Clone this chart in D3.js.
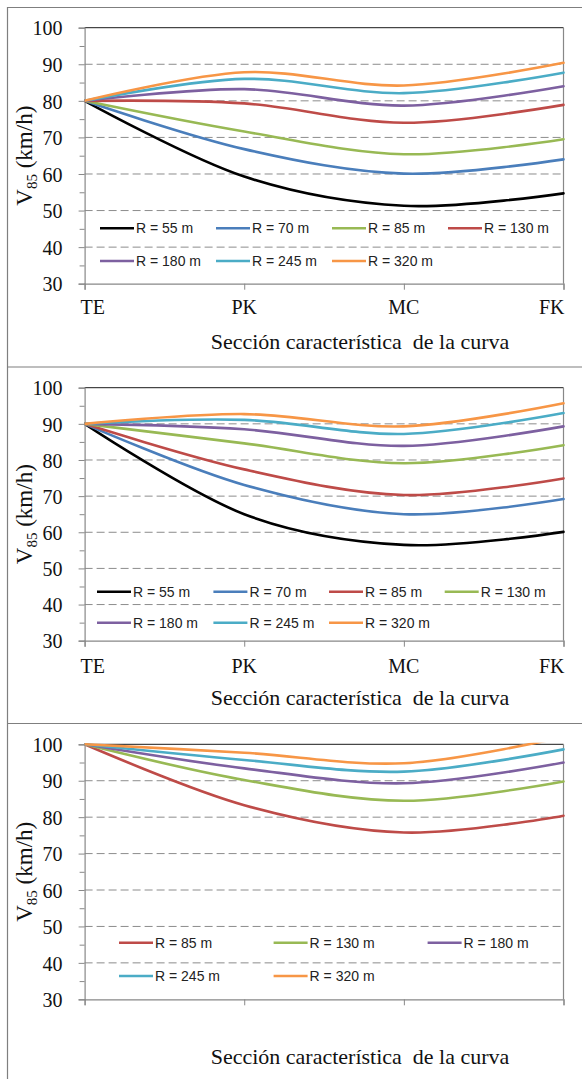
<!DOCTYPE html>
<html>
<head>
<meta charset="utf-8">
<script src="https://cdn.jsdelivr.net/npm/d3@7"></script>
<style>
  html, body { margin: 0; padding: 0; background: #fff; }
  svg { display: block; }
</style>
</head>
<body>
<svg id="chart" width="582" height="1079"></svg>
<script>
// ---------------- DATA ----------------
const categories = ["TE", "PK", "MC", "FK"];
const yTickValues = [30, 40, 50, 60, 70, 80, 90, 100];
const yMinorTicks = [35, 45, 55, 65, 75, 85, 95];
const gridValues = [40, 50, 60, 70, 80, 90];
const xTitle = "Sección característica  de la curva";

const p1Labels = ["R = 55 m", "R = 70 m", "R = 85 m", "R = 130 m", "R = 180 m", "R = 245 m", "R = 320 m"];
const p1Values = [
  [80, 59.3, 51.3, 54.7],
  [80, 66.8, 60.1, 64.0],
  [80, 71.6, 65.4, 69.5],
  [80, 79.3, 74.0, 78.9],
  [80, 83.2, 78.7, 84.0],
  [80, 86.0, 82.1, 87.7],
  [80, 87.8, 84.2, 90.4]
];

const p2Labels = ["R = 55 m", "R = 70 m", "R = 85 m", "R = 130 m", "R = 180 m", "R = 245 m", "R = 320 m"];
const p2Values = [
  [90, 65.0, 56.5, 60.1],
  [90, 73.1, 65.0, 69.2],
  [90, 77.4, 70.3, 74.9],
  [90, 84.6, 79.1, 84.1],
  [90, 88.5, 83.9, 89.3],
  [90, 91.1, 87.2, 93.0],
  [90, 92.7, 89.3, 95.7]
];

const p3Labels = ["R = 85 m", "R = 130 m", "R = 180 m", "R = 245 m", "R = 320 m"];
const p3Values = [
  [100, 83.3, 75.8, 80.4],
  [100, 90.2, 84.5, 89.8],
  [100, 93.4, 89.3, 95.0],
  [100, 95.7, 92.5, 98.6],
  [100, 97.7, 94.8, 102.0]
];

// ---------------- STYLE ----------------
const SERIF = "'Liberation Serif', 'Times New Roman', Tinos, 'DejaVu Serif', serif";
const SANS = "'Liberation Sans', Arial, sans-serif";
const C = {
  black: "#000000", blue: "#4A7EBB", green: "#98B954", red: "#BE4B48",
  purple: "#7D60A0", teal: "#4BACC6", orange: "#F79646"
};
const pal1 = [C.black, C.blue, C.green, C.red, C.purple, C.teal, C.orange];
const pal2 = [C.black, C.blue, C.red, C.green, C.purple, C.teal, C.orange];
const pal3 = [C.red, C.green, C.purple, C.teal, C.orange];

const plotLeft = 84.6, plotRight = 563.5;

const panels = [
  { top: 27.7, bottom: 283.7, values: p1Values, labels: p1Labels, colors: pal1,
    showCats: true, catY: 306.7, titleY: 341.7,
    legRows: [228.3, 261], legCols: [100, 216, 332, 448], perRow: 4 },
  { top: 387.7, bottom: 640.7, values: p2Values, labels: p2Labels, colors: pal2,
    showCats: true, catY: 666, titleY: 697.3,
    legRows: [591.7, 622.7], legCols: [97, 213.4, 329, 444.7], perRow: 4 },
  { top: 744.3, bottom: 999.3, values: p3Values, labels: p3Labels, colors: pal3,
    showCats: false, catY: 0, titleY: 1056.7,
    legRows: [942.7, 976], legCols: [119, 273.6, 427.6], perRow: 3 }
];

const svg = d3.select("#chart");

// outer frames
const frame = svg.append("g").attr("stroke", "#7f7f7f").attr("stroke-width", 1.2);
frame.append("line").attr("x1", 7.5).attr("x2", 7.5).attr("y1", 7).attr("y2", 1079);
[7.5, 367, 723.5].forEach(y => {
  frame.append("line").attr("x1", 7).attr("x2", 582).attr("y1", y).attr("y2", y);
});

const x = d3.scalePoint().domain(categories).range([plotLeft, plotRight]).padding(0);

panels.forEach((p, pi) => {
  const g = svg.append("g");
  const y = d3.scaleLinear().domain([30, 100]).range([p.bottom, p.top]);

  // clip
  const clipId = "clip" + pi;
  svg.append("clipPath").attr("id", clipId).append("rect")
    .attr("x", plotLeft).attr("y", p.top - 1.5)
    .attr("width", plotRight - plotLeft + 2).attr("height", p.bottom - p.top + 3);

  // gridlines
  g.append("g").selectAll("line").data(gridValues).join("line")
    .attr("x1", plotLeft).attr("x2", plotRight)
    .attr("y1", d => y(d)).attr("y2", d => y(d))
    .attr("stroke", "#8c8c8c").attr("stroke-width", 1)
    .attr("stroke-dasharray", "8,4");

  // plot area border top (dark) and right (gray)
  g.append("line").attr("x1", plotLeft).attr("x2", plotRight)
    .attr("y1", y(100)).attr("y2", y(100)).attr("stroke", "#1a1a1a").attr("stroke-width", 1);
  g.append("line").attr("x1", plotRight).attr("x2", plotRight)
    .attr("y1", y(100)).attr("y2", y(30)).attr("stroke", "#888").attr("stroke-width", 1.2);

  // y axis
  const yAxis = d3.axisLeft(y).tickValues(yTickValues).tickSize(6).tickPadding(16)
    .tickFormat(d3.format("d"));
  const ya = g.append("g").attr("transform", `translate(${plotLeft},0)`).call(yAxis)
    .attr("font-family", SERIF).attr("font-size", 20);
  ya.select(".domain").attr("stroke", "#888").attr("stroke-width", 1.2);
  ya.selectAll(".tick line").attr("stroke", "#888");
  ya.selectAll(".tick text").style("font-family", SERIF).style("font-size", "20px")
    .attr("fill", "#111").attr("dy", "0.36em");
  // minor ticks
  const yMinor = d3.axisLeft(y).tickValues(yMinorTicks).tickSize(5).tickFormat("");
  const ym = g.append("g").attr("transform", `translate(${plotLeft},0)`).call(yMinor);
  ym.select(".domain").remove();
  ym.selectAll(".tick line").attr("stroke", "#888");

  // x axis
  const xAxis = d3.axisBottom(x).tickSize(6).tickFormat("");
  const xa = g.append("g").attr("transform", `translate(0,${p.bottom})`).call(xAxis);
  xa.select(".domain").attr("stroke", "#888").attr("stroke-width", 1.2);
  xa.selectAll(".tick line").attr("stroke", "#888");

  if (p.showCats) {
    g.append("g").selectAll("text").data(categories).join("text")
      .style("font-family", SERIF).style("font-size", "20px").attr("fill", "#111")
      .attr("x", (d, i) => i === 0 ? x(d) - 4 : (i === categories.length - 1 ? x(d) + 1 : x(d)))
      .attr("y", p.catY).attr("dy", "0.35em")
      .attr("text-anchor", (d, i) => i === 0 ? "start" : (i === categories.length - 1 ? "end" : "middle"))
      .text(d => d);
  }

  // y title
  const cy = (p.top + p.bottom) / 2;
  const yt = g.append("text").style("font-family", SERIF).attr("fill", "#111")
    .attr("transform", `translate(32,${cy}) rotate(-90)`)
    .attr("text-anchor", "middle").style("font-size", "23px");
  yt.append("tspan").text("V");
  yt.append("tspan").style("font-size", "15px").attr("dy", 5).text("85");
  yt.append("tspan").attr("dy", -5).text(" (km/h)");

  // x title
  g.append("text").style("font-family", SERIF).attr("fill", "#111")
    .attr("x", 360).attr("y", p.titleY).attr("dy", "0.35em")
    .attr("text-anchor", "middle").style("font-size", "22px")
    .style("white-space", "pre")
    .text(xTitle);

  // lines
  const line = d3.line()
    .x((d, i) => x(categories[i]))
    .y(d => y(d))
    .curve(d3.curveCatmullRom.alpha(0));
  g.append("g").attr("clip-path", `url(#${clipId})`)
    .selectAll("path").data(p.values).join("path")
    .attr("d", d => line(d))
    .attr("fill", "none")
    .attr("stroke", (d, i) => p.colors[i])
    .attr("stroke-width", 2.6)
    .attr("stroke-linecap", "round");

  // legend
  const leg = g.append("g");
  p.labels.forEach((lab, i) => {
    const row = Math.floor(i / p.perRow), col = i % p.perRow;
    const lx = p.legCols[col], ly = p.legRows[row];
    leg.append("line").attr("x1", lx).attr("x2", lx + 34).attr("y1", ly).attr("y2", ly)
      .attr("stroke", p.colors[i]).attr("stroke-width", 2.6);
    leg.append("text").style("font-family", SANS).style("font-size", "14px").attr("fill", "#222")
      .attr("x", lx + 36).attr("y", ly).attr("dy", "0.36em").text(lab);
  });
});
</script>
</body>
</html>
